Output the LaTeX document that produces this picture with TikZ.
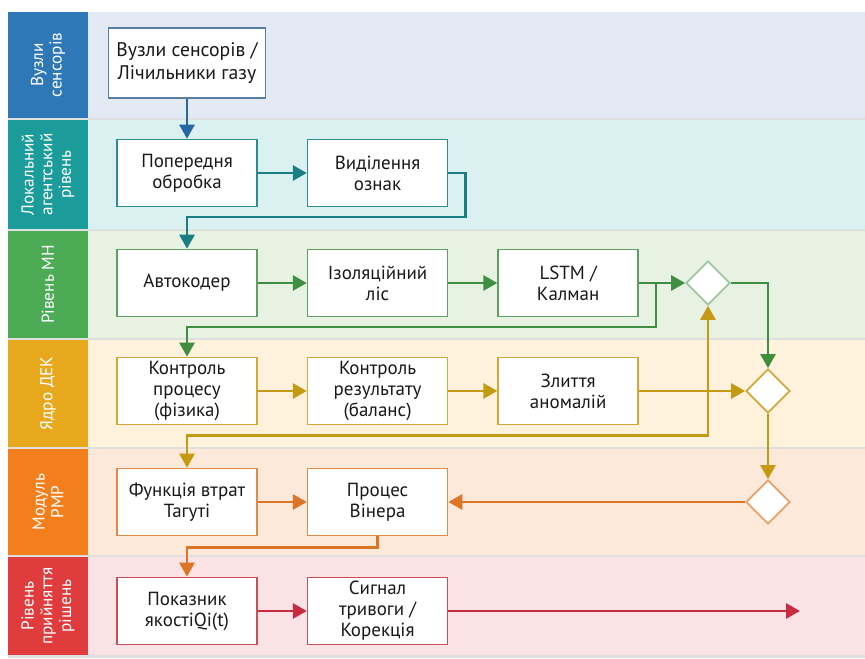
\documentclass[tikz,border=0pt]{standalone}
\usepackage{fontspec}
\setmainfont{PT Sans}
\usepackage{xcolor}
\usepackage{tikz}
\usetikzlibrary{shapes,arrows,positioning,shadows,arrows.meta,calc}

\definecolor{tag1}{HTML}{2F78B7}\definecolor{bg1}{HTML}{E4EAF4}\definecolor{arr1}{HTML}{2466A6}\definecolor{line1}{HTML}{5A7F9E}
\definecolor{tag2}{HTML}{1B9B99}\definecolor{bg2}{HTML}{DBF0F1}\definecolor{arr2}{HTML}{1B7E84}\definecolor{line2}{HTML}{2A8E8E}
\definecolor{tag3}{HTML}{4DAA55}\definecolor{bg3}{HTML}{E7F2E2}\definecolor{arr3}{HTML}{3F8E42}\definecolor{line3}{HTML}{5DA05F}
\definecolor{tag4}{HTML}{E8A81E}\definecolor{bg4}{HTML}{FEF2DC}\definecolor{arr4}{HTML}{C49A14}\definecolor{line4}{HTML}{D4A73A}
\definecolor{tag5}{HTML}{F27E1C}\definecolor{bg5}{HTML}{FDE9DA}\definecolor{arr5}{HTML}{DC7526}\definecolor{line5}{HTML}{E08A45}
\definecolor{tag6}{HTML}{E03B3D}\definecolor{bg6}{HTML}{FBE2E4}\definecolor{arr6}{HTML}{C62B3F}\definecolor{line6}{HTML}{C95058}

\begin{document}
\begin{tikzpicture}[x=0.2mm, y=-0.2mm, node distance=9.8mm, >={Triangle[length=2.8mm, width=3mm]},
  every node/.style={font=\fontsize{10.8}{12}\selectfont}]
  \tikzset{
    box/.style={rectangle, draw=#1, line width=0.9pt, fill=white, minimum width=28mm, minimum height=13.4mm, align=center, text=black!90, inner sep=1pt},
    gate/.style={diamond, draw=#1, line width=1pt, fill=white, minimum width=8.8mm, minimum height=8.8mm, inner sep=0pt},
    flow/.style={->, line width=1.6pt, draw=#1},
    lane/.style={fill=#1, drop shadow={shadow xshift=0mm, shadow yshift=-0.5mm, opacity=0.25}},
    lanetag/.style={rotate=90, text=white, align=center, font=\fontsize{9.8}{10.6}\selectfont}
  }
  \useasboundingbox (0,0) rectangle (865,659);

  % lanes
  \foreach \ytop/\ybot/\n/\txt in {12/118/1/{Вузли\\сенсорів}, 120/229/2/{Локальний\\агентський\\рівень},
      231/338/3/{Рівень МН}, 340/447/4/{Ядро ДЕК}, 449/555/5/{Модуль\\РМР}, 557/655/6/{Рівень\\прийняття\\рішень}} {
    \fill[lane=bg\n] (8,\ytop) rectangle (865,\ybot);
    \fill[tag\n] (8,\ytop) rectangle (88,\ybot);
    \node[lanetag] (tag\n) at (48,{(\ytop+\ybot)/2}) {\txt};
  }

  % nodes
  \node[box=line1, minimum width=31.4mm, minimum height=14mm, font=\fontsize{11.2}{13}\selectfont] (sens) at (187,63) {Вузли сенсорів /\\Лічильники газу};
  \node[box=line2] (prep) at (187,173) {Попередня\\обробка};
  \node[box=line2, right=of prep] (feat) {Виділення\\ознак};
  \node[box=line3] (auto) at (187,283) {Автокодер};
  \node[box=line3, right=of auto] (iforest) {Ізоляційний\\ліс};
  \node[box=line3, right=of iforest] (lstm) {LSTM /\\Калман};
  \node[gate=line3!60] (g1) at (708,283) {};
  \node[box=line4] (ctrlp) at (187,391) {Контроль\\процесу\\(фізика)};
  \node[box=line4, right=of ctrlp] (ctrlr) {Контроль\\результату\\(баланс)};
  \node[box=line4, right=of ctrlr] (fuse) {Злиття\\аномалій};
  \node[gate=line4] (g2) at (768,391) {};
  \node[box=line5] (loss) at (187,502) {Функція втрат\\Тагуті};
  \node[box=line5, right=of loss] (wien) {Процес\\Вінера};
  \node[gate=line5!80] (g3) at (768,502) {};
  \node[box=line6] (qual) at (187,611) {Показник\\якостіQi(t)};
  \node[box=line6, right=of qual] (alarm) {Сигнал\\тривоги /\\Корекція};
  \coordinate (out) at (800,611);

  % arrows
  \draw[flow=arr1] (sens) -- (prep);
  \draw[flow=arr2] (prep) -- (feat);
  \draw[flow=arr2] (feat.east) -| ++(17,44) -| (auto.north);
  \draw[flow=arr3] (auto) -- (iforest);
  \draw[flow=arr3] (iforest) -- (lstm);
  \draw[flow=arr3] (lstm) -- (g1);
  \draw[flow=arr3] ([xshift=3.4mm]lstm.east) -- ++(0,44) -| (ctrlp.north);
  \draw[flow=arr3] (g1.east) -| (g2.north);
  \draw[flow=arr4] (ctrlp) -- (ctrlr);
  \draw[flow=arr4] (ctrlr) -- (fuse);
  \draw[flow=arr4] (fuse) -- (g2);
  \draw[flow=arr4, <->] (loss.north) -- ++(0,-32) -| (g1.south);
  \draw[flow=arr4] (g2.south) -- (g3.north);
  \draw[flow=arr5] (loss) -- (wien);
  \draw[flow=arr5] (g3) -- (wien);
  \draw[flow=arr5] (wien.south) -- ++(0,11) -| (qual.north);
  \draw[flow=arr6] (qual) -- (alarm);
  \draw[flow=arr6] (alarm) -- (out);
\end{tikzpicture}
\end{document}
